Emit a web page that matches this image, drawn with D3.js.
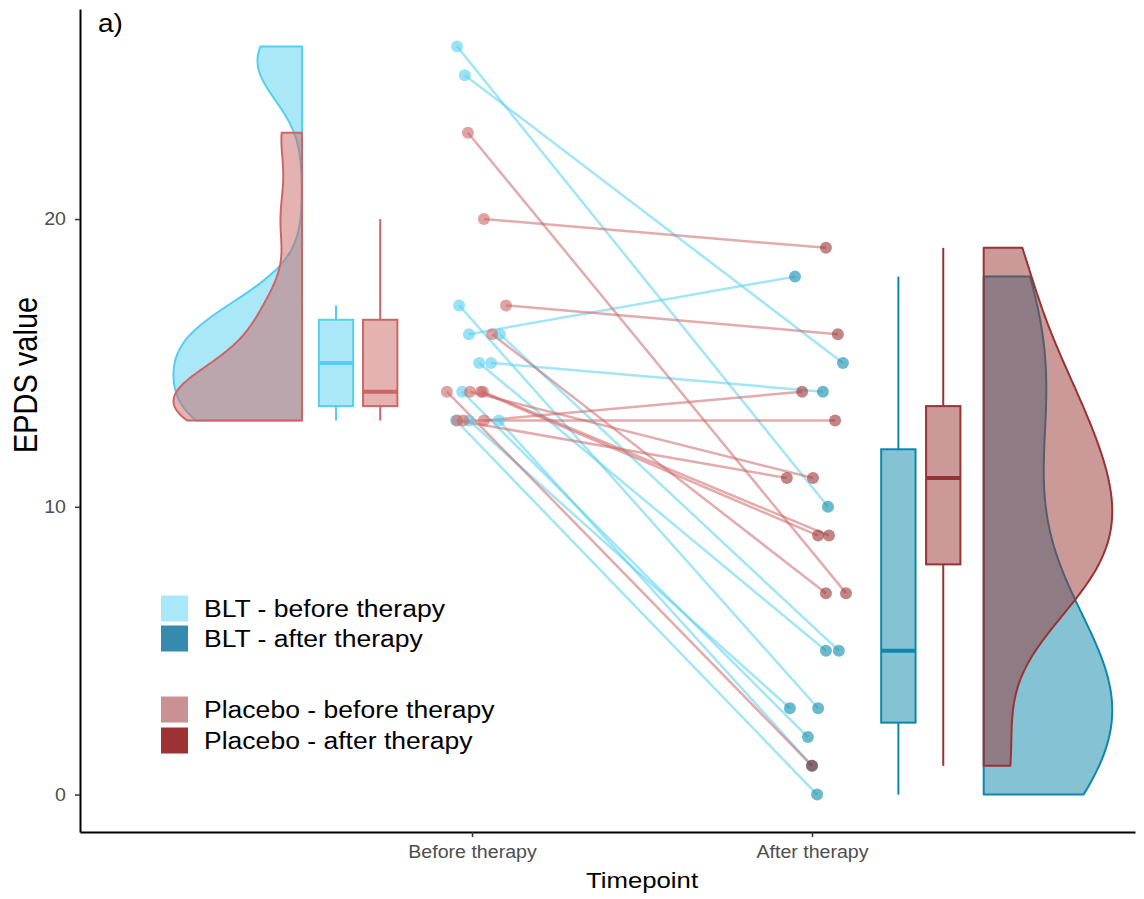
<!DOCTYPE html>
<html>
<head>
<meta charset="utf-8">
<script src="https://cdn.jsdelivr.net/npm/d3@7"></script>
<style>
  body { margin: 0; background: #fff; }
  text { font-family: "Liberation Sans", Arial, sans-serif; }
</style>
</head>
<body>
<svg id="chart" width="1144" height="899"></svg>
<script>
// EPDS values, one entry per participant (pre[i] is paired with post[i])
const blt_pre = [26, 25, 17, 16, 16, 15, 15, 14, 13, 13, 13]
const blt_post = [10, 15, 3, 18, 5, 5, 14, 2, 0, 3, 1]
const plc_pre = [23, 20, 17, 16, 14, 14, 14, 14, 13, 13, 13]
const plc_post = [7, 19, 16, 7, 1, 11, 9, 9, 11, 13, 14]
// jittered timepoint positions (1 = before, 2 = after)
const blt_pre_x = [0.956, 0.979, 0.962, 0.991, 1.082, 1.021, 1.056, 0.971, 0.953, 0.991, 1.079]
const blt_post_x = [2.047, 2.091, 2.018, 1.950, 2.079, 2.041, 2.032, 1.988, 2.015, 1.935, 2.000]
const plc_pre_x = [0.988, 1.035, 1.100, 1.059, 0.926, 0.994, 1.026, 1.032, 0.956, 0.974, 1.035]
const plc_post_x = [2.100, 2.041, 2.076, 2.041, 2.000, 2.003, 2.018, 2.050, 1.926, 2.068, 1.971]

const timepoints = ['Before therapy', 'After therapy']
const timepoint_pos = [1, 2]
const y_ticks = [0, 10, 20]
const legend_labels = ['BLT - before therapy', 'BLT - after therapy', 'Placebo - before therapy', 'Placebo - after therapy']

const blue1 = '#55CFF0', blue2 = '#0B88AA', red1 = '#CC6666', red2 = '#993333'
const legend_colors = ['#A8E8F8', '#358AAE', '#C99193', '#9B3233']
const hs = 1.12 // the reference text is a little wide

const svg = d3.select('#chart')
const x = d3.scaleLinear().domain([-0.153, 2.95]).range([80, 1135])
const y = d3.scaleLinear().domain([-1.3, 27.3]).range([832, 9])

function bwNrd0(v) {
  const s = v.slice().sort(d3.ascending)
  const iqr = (d3.quantile(s, 0.75) - d3.quantile(s, 0.25)) / 1.34
  return 0.9 * Math.min(d3.deviation(v), iqr) * Math.pow(v.length, -0.2)
}
function kde(vals, bw, at) {
  return at.map(t => d3.sum(vals, v => Math.exp(-0.5 * ((t - v) / bw) ** 2)))
}

// half violin, flat side at "edge", grows in direction dir
function violin(vals, edge, dir, width, col) {
  const lo = d3.min(vals), hi = d3.max(vals)
  const ys = d3.range(0, 301).map(i => lo + (hi - lo) * i / 300)
  const dens = kde(vals, bwNrd0(vals), ys)
  const m = d3.max(dens)
  const pts = [[edge, lo]].concat(ys.map((v, i) => [edge + dir * width * dens[i] / m, v]), [[edge, hi]])
  svg.append('path')
    .attr('d', d3.line().x(p => x(p[0])).y(p => y(p[1]))(pts) + 'Z')
    .attr('fill', col).attr('fill-opacity', 0.5)
    .attr('stroke', col).attr('stroke-width', 2).attr('stroke-linejoin', 'round')
}

function boxplot(vals, cx, w, col) {
  const s = vals.slice().sort(d3.ascending)
  const q1 = d3.quantile(s, 0.25), med = d3.quantile(s, 0.5), q3 = d3.quantile(s, 0.75)
  const iqr = q3 - q1
  const lo = d3.min(s.filter(v => v >= q1 - 1.5 * iqr))
  const hi = d3.max(s.filter(v => v <= q3 + 1.5 * iqr))
  const g = svg.append('g')
  g.append('line').attr('x1', x(cx)).attr('x2', x(cx)).attr('y1', y(hi)).attr('y2', y(q3))
    .attr('stroke', col).attr('stroke-width', 2)
  g.append('line').attr('x1', x(cx)).attr('x2', x(cx)).attr('y1', y(q1)).attr('y2', y(lo))
    .attr('stroke', col).attr('stroke-width', 2)
  g.append('rect').attr('x', x(cx - w / 2)).attr('width', x(cx + w / 2) - x(cx - w / 2))
    .attr('y', y(q3)).attr('height', y(q1) - y(q3))
    .attr('fill', col).attr('fill-opacity', 0.5).attr('stroke', col).attr('stroke-width', 2)
  g.append('line').attr('x1', x(cx - w / 2)).attr('x2', x(cx + w / 2)).attr('y1', y(med)).attr('y2', y(med))
    .attr('stroke', col).attr('stroke-width', 4)
}

function label(txt, px, py, size, anchor, col) {
  return svg.append('text').text(txt)
    .attr('transform', `translate(${px},${py}) scale(${hs},1)`)
    .attr('font-size', size).attr('text-anchor', anchor).attr('fill', col)
}

// violins
violin(blt_pre, 0.5, -1, 0.378, blue1)
violin(plc_pre, 0.5, -1, 0.378, red1)
violin(blt_post, 2.505, 1, 0.378, blue2)
violin(plc_post, 2.505, 1, 0.378, red2)

// paired lines
blt_pre.forEach((v, i) => {
  svg.append('line').attr('x1', x(blt_pre_x[i])).attr('y1', y(v))
    .attr('x2', x(blt_post_x[i])).attr('y2', y(blt_post[i]))
    .attr('stroke', blue1).attr('stroke-opacity', 0.55).attr('stroke-width', 2.5)
})
plc_pre.forEach((v, i) => {
  svg.append('line').attr('x1', x(plc_pre_x[i])).attr('y1', y(v))
    .attr('x2', x(plc_post_x[i])).attr('y2', y(plc_post[i]))
    .attr('stroke', red1).attr('stroke-opacity', 0.55).attr('stroke-width', 2.5)
})

// points
function points(vals, xs, col) {
  svg.append('g').selectAll('circle').data(vals).join('circle')
    .attr('cx', (d, i) => x(xs[i])).attr('cy', d => y(d)).attr('r', 6)
    .attr('fill', col).attr('fill-opacity', 0.6)
}
points(blt_pre, blt_pre_x, blue1)
points(plc_pre, plc_pre_x, red1)
points(blt_post, blt_post_x, blue2)
points(plc_post, plc_post_x, red2)

// boxplots
boxplot(blt_pre, 0.60, 0.101, blue1)
boxplot(plc_pre, 0.73, 0.101, red1)
boxplot(blt_post, 2.254, 0.101, blue2)
boxplot(plc_post, 2.386, 0.101, red2)

// axes
const ya = svg.append('g').attr('transform', 'translate(80,0)')
  .call(d3.axisLeft(y).tickValues(y_ticks).tickSize(5).tickSizeOuter(0).tickPadding(7.5))
const xa = svg.append('g').attr('transform', 'translate(0,832)')
  .call(d3.axisBottom(x).tickValues(timepoint_pos).tickFormat((d, i) => timepoints[i])
    .tickSize(5).tickSizeOuter(0).tickPadding(9))
;[ya, xa].forEach(a => {
  a.select('.domain').attr('stroke', '#000').attr('stroke-width', 2)
  a.selectAll('.tick line').attr('stroke', '#333').attr('stroke-width', 1.5)
  a.selectAll('.tick text').attr('font-size', 17.5).attr('fill', '#4D4D4D')
    .attr('font-family', '"Liberation Sans", Arial, sans-serif')
    .attr('transform', `scale(${hs},1)`)
})

label('Timepoint', 642, 888, 23, 'middle', '#000')
svg.append('text').text('EPDS value')
  .attr('transform', `translate(26,375) rotate(-90) scale(1,${hs})`)
  .attr('font-size', 29).attr('text-anchor', 'middle').attr('dominant-baseline', 'central')
label('a)', 98, 32, 25, 'start', '#000')

// legend
const ly = [608.5, 638.5, 709.5, 740.5]
legend_labels.forEach((t, i) => {
  svg.append('rect').attr('x', 161).attr('y', ly[i] - 13).attr('width', 27).attr('height', 26)
    .attr('fill', legend_colors[i])
  label(t, 204, ly[i] + 8.5, 23.7, 'start', '#000')
})
</script>
</body>
</html>
